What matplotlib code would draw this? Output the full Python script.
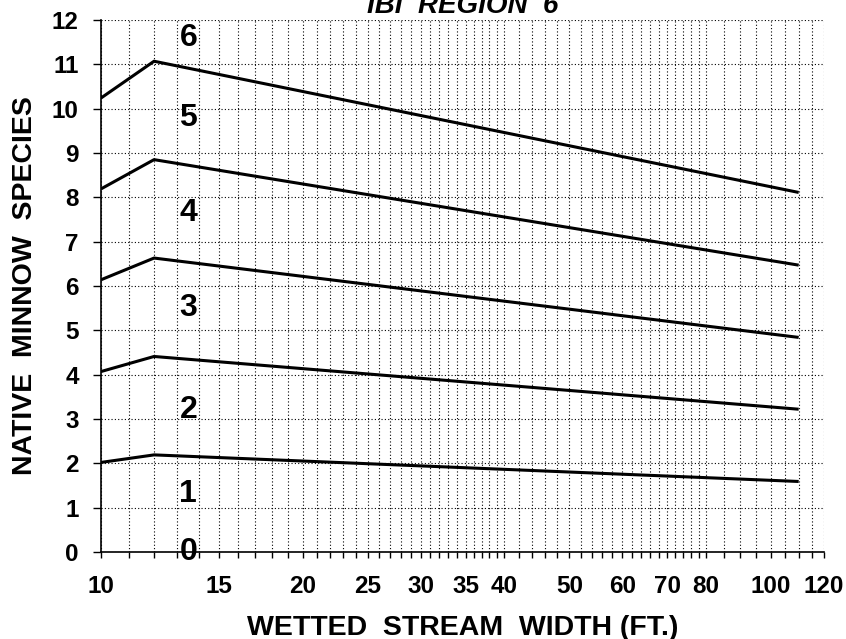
import numpy as np
import matplotlib.pyplot as plt
from matplotlib.ticker import FixedLocator, FixedFormatter, NullFormatter

plt.rcParams['font.family'] = ['Liberation Sans', 'DejaVu Sans']

# stream width (ft) at the break points of each line
width = [10, 12, 110]

# native minnow species, one line per score boundary
line_6 = [10.24, 11.07, 8.11]
line_5 = [8.19, 8.85, 6.47]
line_4 = [6.14, 6.63, 4.84]
line_3 = [4.07, 4.41, 3.22]
line_2 = [2.02, 2.19, 1.59]

# score numbers written between the lines
score_labels = ['6', '5', '4', '3', '2', '1', '0']
score_y = [11.6, 9.8, 7.65, 5.5, 3.2, 1.3, 0.0]
score_x = 13.5

x_tick_vals = [10, 15, 20, 25, 30, 35, 40, 50, 60, 70, 80, 100, 120]
# vertical grid: every 1 to 40, every 2 to 80, every 5 to 120
x_grid_vals = list(range(10, 40)) + list(range(40, 80, 2)) + list(range(80, 125, 5))

fig = plt.figure(figsize=(8.46, 6.39), dpi=100)
ax = fig.add_axes([0.1194, 0.1362, 0.9740 - 0.1194, 0.9687 - 0.1362])

for ys in [line_6, line_5, line_4, line_3, line_2]:
    ax.plot(width, ys, color='black', lw=2.2, solid_capstyle='butt', zorder=3)

for lab, yy in zip(score_labels, score_y):
    ax.text(score_x, yy, lab, ha='center', va='center', fontsize=23,
            fontweight='bold', zorder=4)

ax.set_xscale('log')
ax.set_xlim(10, 120)
ax.set_ylim(0, 12)

ax.xaxis.set_major_locator(FixedLocator(x_tick_vals))
ax.xaxis.set_major_formatter(FixedFormatter([str(v) for v in x_tick_vals]))
ax.xaxis.set_minor_locator(FixedLocator(x_grid_vals))
ax.xaxis.set_minor_formatter(NullFormatter())
ax.set_yticks(np.arange(0, 13, 1))

ax.tick_params(axis='x', which='both', direction='out', length=4, width=1,
               pad=12.5, labelsize=17.5)
ax.tick_params(axis='y', direction='out', length=6, width=1, pad=10,
               labelsize=17.5)
for lab in ax.get_xticklabels() + ax.get_yticklabels():
    lab.set_fontweight('bold')

ax.grid(True, which='both', axis='x', color='black', lw=0.8,
        linestyle=(0, (1, 2)))
ax.grid(True, which='major', axis='y', color='black', lw=0.8,
        linestyle=(0, (1, 2)))
ax.set_axisbelow(True)

for side in ['top', 'right']:
    ax.spines[side].set_visible(False)
for side in ['left', 'bottom']:
    ax.spines[side].set_linewidth(1.2)

ax.set_xlabel('WETTED  STREAM  WIDTH (FT.)', fontsize=20.5, fontweight='bold',
              labelpad=12)
ax.set_ylabel('NATIVE  MINNOW  SPECIES', fontsize=20.5, fontweight='bold',
              labelpad=10)

fig.text(0.547, 0.9797, 'IBI  REGION  6', ha='center', va='baseline',
         fontsize=20, fontweight='bold', fontstyle='italic')

fig.savefig('out.png', dpi=100)
